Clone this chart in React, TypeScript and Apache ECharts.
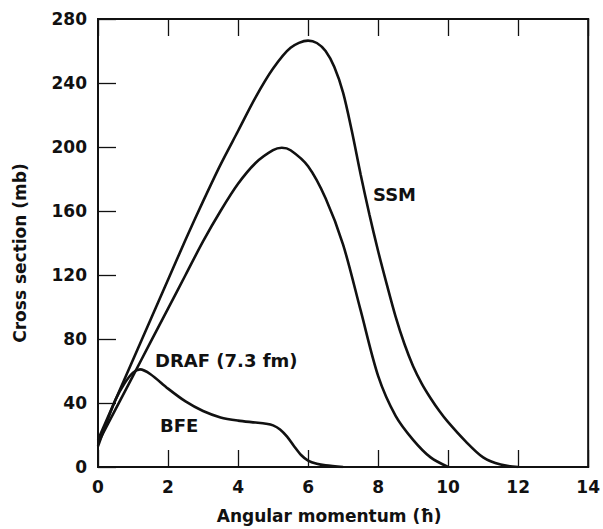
import React, { useEffect, useRef } from "react";
import * as echarts from "echarts";

// SSM curve (outer)
const ssmX = [0, 0.5, 1, 1.5, 2, 2.5, 3, 3.5, 4, 4.5, 5, 5.5, 6, 6.25, 6.5, 6.75, 7, 7.25, 7.5, 7.75, 8, 8.25, 8.5, 8.75, 9, 9.25, 9.5, 9.75, 10, 10.5, 11, 11.5, 12];
const ssmY = [17, 42, 67, 92, 117, 142, 166, 189, 210, 231, 249, 262, 266.5, 265, 260, 250, 234, 210, 183, 158, 135, 114, 94, 77, 63, 52, 43, 35, 28, 16, 6, 1.5, 0];

// DRAF (7.3 fm) curve (middle)
const drafX = [0, 0.5, 1, 1.5, 2, 2.5, 3, 3.5, 4, 4.5, 5, 5.25, 5.5, 6, 6.5, 7, 7.5, 8, 8.5, 9, 9.5, 10];
const drafY = [15, 36, 57, 78, 99, 120, 141, 160, 177, 190, 198, 199.5, 198, 188, 168, 139, 98, 57, 32, 17, 6, 0];

// BFE curve (lowest)
const bfeX = [0, 0.25, 0.5, 0.75, 1, 1.2, 1.5, 2, 2.5, 3, 3.5, 4, 4.5, 4.8, 5, 5.2, 5.4, 5.6, 5.8, 6, 6.25, 6.5, 7];
const bfeY = [13, 28, 42, 52, 59, 61, 58, 49, 41, 35, 31, 29, 27.8, 27, 26, 23.5, 19, 13, 7.5, 4, 2, 1, 0];

const xTicks = [0, 14, 2];
const yTicks = [0, 280, 40];

const curveLabels = ["SSM", "DRAF (7.3 fm)", "BFE"];

const FONT = "'DejaVu Sans', 'Liberation Sans', Arial, sans-serif";
const INK = "#111111";

const pairs = (xs: number[], ys: number[]) => xs.map((x, i) => [x, ys[i]]);

export default function App() {
  const ref = useRef<HTMLDivElement>(null);
  useEffect(() => {
    document.body.style.margin = "0";
    if (!ref.current) return;
    const chart = echarts.init(ref.current, undefined, { renderer: "svg" });
    const lineStyle = { color: INK, width: 2.6 };
    const labelStyle = { color: INK, fontSize: 17, fontWeight: "bold" as const, fontFamily: FONT };
    const curve = (name: string, xs: number[], ys: number[]) => ({
      name,
      type: "line",
      data: pairs(xs, ys),
      smooth: 0.3,
      symbol: "none",
      lineStyle,
    });
    chart.setOption({
      animation: false,
      backgroundColor: "#ffffff",
      grid: {
        left: 98,
        right: 14,
        top: 19,
        bottom: 62,
        show: true,
        borderColor: INK,
        borderWidth: 2,
      },
      xAxis: [
        {
          type: "value",
          min: xTicks[0],
          max: xTicks[1],
          interval: xTicks[2],
          name: "Angular momentum (\u0127)",
          nameLocation: "middle",
          nameGap: 40,
          nameTextStyle: { ...labelStyle, padding: [0, 28, 0, 0] },
          axisLine: { show: true, lineStyle: { color: INK, width: 2 } },
          axisTick: { show: true, inside: true, length: 17, lineStyle: { color: INK, width: 1.3 } },
          axisLabel: { ...labelStyle, margin: 11 },
          splitLine: { show: false },
        },
        {
          type: "value",
          position: "top",
          min: xTicks[0],
          max: xTicks[1],
          interval: xTicks[2],
          axisLine: { show: true, lineStyle: { color: INK, width: 2 } },
          axisTick: { show: true, inside: true, length: 17, lineStyle: { color: INK, width: 1.3 } },
          axisLabel: { show: false },
          splitLine: { show: false },
        },
      ],
      yAxis: [
        {
          type: "value",
          min: yTicks[0],
          max: yTicks[1],
          interval: yTicks[2],
          name: "Cross section (mb)",
          nameLocation: "middle",
          nameGap: 70,
          nameTextStyle: { ...labelStyle, padding: [0, 20, 0, 0] },
          axisLine: { show: true, lineStyle: { color: INK, width: 2 } },
          axisTick: { show: true, inside: true, length: 18, lineStyle: { color: INK, width: 1.3 } },
          axisLabel: { ...labelStyle, margin: 11 },
          splitLine: { show: false },
        },
      ],
      series: [
        curve(curveLabels[0], ssmX, ssmY),
        curve(curveLabels[1], drafX, drafY),
        curve(curveLabels[2], bfeX, bfeY),
      ],
      graphic: [
        { type: "text", left: 373, top: 185, style: { text: curveLabels[0], font: `bold 18px ${FONT}`, fill: INK } },
        { type: "text", left: 155, top: 351, style: { text: curveLabels[1], font: `bold 18px ${FONT}`, fill: INK } },
        { type: "text", left: 160, top: 416, style: { text: curveLabels[2], font: `bold 18px ${FONT}`, fill: INK } },
      ],
    });
    return () => chart.dispose();
  }, []);
  return <div ref={ref} style={{ width: 603, height: 529 }} />;
}
